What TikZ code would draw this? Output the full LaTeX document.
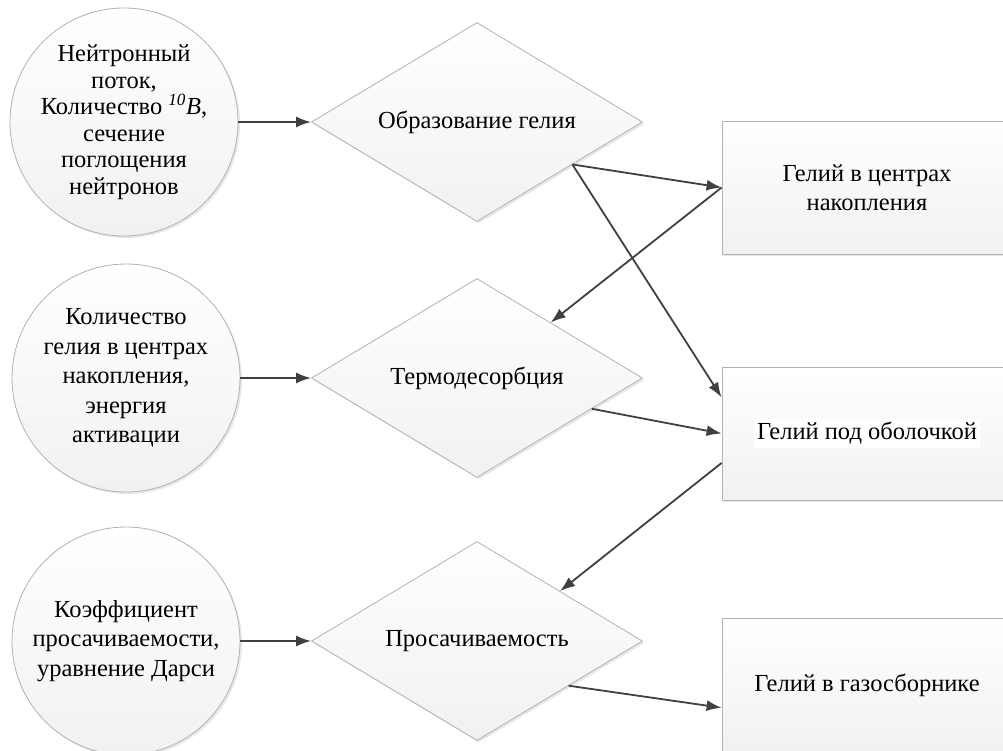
\documentclass[tikz,border=0pt]{standalone}
\usepackage{fontspec}
\setmainfont{Liberation Serif}
\newfontfamily\labelfont{Liberation Serif}
\usetikzlibrary{shapes.geometric,arrows.meta,shadows,calc}

\tikzset{
  x=1pt, y=-1pt,
  base/.style={draw=gray!60, line width=0.8pt, top color=white, bottom color=gray!11,
    drop shadow={shadow xshift=2pt, shadow yshift=-2pt, fill=gray!60, opacity=0.3},
    font=\labelfont\fontsize{24.5}{29.5}\selectfont, align=center, inner sep=0pt},
  input/.style={base, circle, minimum size=228pt},
  process/.style={base, diamond, aspect=1.66, minimum width=331pt, minimum height=199pt},
  store/.style={base, rectangle, minimum width=290pt, minimum height=133pt},
  flow/.style={draw=black!75, line width=1.8pt, -{Latex[length=15pt,width=11pt]}},
}

\begin{document}
\begin{tikzpicture}
\useasboundingbox (0,0) rectangle (1003,751);

% inputs
\node[input, font=\labelfont\fontsize{24.5}{26.5}\selectfont] (c1) at (124,122) {Нейтронный\\поток,\\Количество \textsuperscript{\textit{10}}\textit{B},\\сечение\\поглощения\\нейтронов};
\node[input] (c2) at (126,378) {Количество\\гелия в центрах\\накопления,\\энергия\\активации};
\node[input] (c3) at (126,641) {Коэффициент\\просачиваемости,\\уравнение Дарси};

% processes
\node[process] (d1) at (477,122) {Образование гелия};
\node[process] (d2) at (477,378) {Термодесорбция};
\node[process] (d3) at (477,641) {Просачиваемость};

% helium states (right side runs off the page)
\node[store] (r1) at (867,187.5) {Гелий в центрах\\накопления};
\node[store] (r2) at (867,433.5) {\setlength{\fboxsep}{3pt}\colorbox{white}{Гелий под оболочкой}};
\node[store] (r3) at (867,685) {Гелий в газосборнике};

\draw[flow] (c1.east) -- (d1.west);
\draw[flow] (c2.east) -- (d2.west);
\draw[flow] (c3.east) -- (d3.west);

\draw[flow] (d1.-24) -- (r1.west);
\draw[flow] (d1.-24) -- ($(r2.north west)!0.23!(r2.south west)$);
\draw[flow] (r1.west) -- (d2.37);
\draw[flow] (d2.-15) -- (r2.west);
\draw[flow] ($(r2.north west)!0.72!(r2.south west)$) -- (d3.31);
\draw[flow] (d3.-26) -- ($(r3.north west)!0.67!(r3.south west)$);
\end{tikzpicture}
\end{document}
